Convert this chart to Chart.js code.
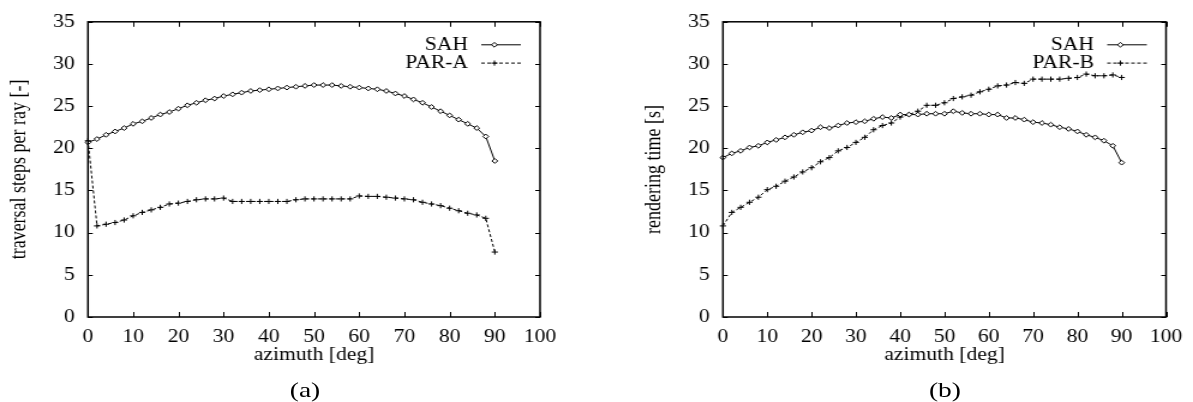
<!DOCTYPE html>
<html>
<head>
<meta charset="utf-8">
<script src="https://cdn.jsdelivr.net/npm/chart.js@4.4.1/dist/chart.umd.min.js"></script>
<style>
  body { margin: 0; background: #fff; }
  #wrap { position: relative; width: 1193px; height: 402px; overflow: hidden; }
  /* the original figure is a bit wider than tall, so stretch each canvas horizontally */
  canvas { position: absolute; top: 0; transform: scaleX(1.2); transform-origin: 0 0; }
  .cap { position: absolute; top: 378px; width: 100px; height: 24px; text-align: center;
         font-family: 'Liberation Serif', serif; font-size: 22px; line-height: 24px; color: #000;
         transform: scaleX(1.25); transform-origin: 50% 50%; }
</style>
</head>
<body>
<div id="wrap">
  <canvas id="chartA" width="497" height="402" style="left:0px"></canvas>
  <canvas id="chartB" width="465" height="402" style="left:635px"></canvas>
  <div class="cap" style="left:255px">(a)</div>
  <div class="cap" style="left:895px">(b)</div>
</div>
<script>
// azimuth samples [deg]
const azimuth = [0, 2, 4, 6, 8, 10, 12, 14, 16, 18, 20, 22, 24, 26, 28, 30, 32, 34, 36, 38, 40, 42, 44,
  46, 48, 50, 52, 54, 56, 58, 60, 62, 64, 66, 68, 70, 72, 74, 76, 78, 80, 82, 84, 86, 88, 90];

// (a) traversal steps per ray
const sahSteps = [20.7, 21.1, 21.6, 22.0, 22.4, 22.9, 23.2, 23.6, 24.0, 24.3, 24.7, 25.1, 25.4, 25.7, 25.9, 26.2,
  26.4, 26.6, 26.8, 26.9, 27.0, 27.1, 27.2, 27.3, 27.4, 27.5, 27.5, 27.5, 27.4, 27.3, 27.2, 27.1, 27.0, 26.8,
  26.5, 26.2, 25.8, 25.4, 24.9, 24.4, 23.9, 23.4, 22.9, 22.4, 21.4, 18.5];
const parASteps = [20.9, 10.8, 11.0, 11.2, 11.5, 12.0, 12.4, 12.7, 13.0, 13.4, 13.5, 13.7, 13.9, 14.0, 14.0, 14.1,
  13.7, 13.7, 13.7, 13.7, 13.7, 13.7, 13.7, 13.9, 14.0, 14.0, 14.0, 14.0, 14.0, 14.0, 14.35, 14.3, 14.3, 14.2,
  14.1, 14.0, 13.9, 13.6, 13.4, 13.2, 12.9, 12.6, 12.3, 12.1, 11.7, 7.7];

// (b) rendering time
const sahTime = [18.9, 19.4, 19.7, 20.1, 20.3, 20.7, 21.0, 21.3, 21.6, 21.9, 22.1, 22.5, 22.4, 22.7, 23.0, 23.1,
  23.2, 23.5, 23.7, 23.6, 24.0, 24.0, 24.0, 24.1, 24.1, 24.1, 24.4, 24.2, 24.1, 24.1, 24.0, 24.0, 23.6, 23.6,
  23.4, 23.1, 23.0, 22.8, 22.5, 22.3, 22.0, 21.6, 21.3, 20.9, 20.3, 18.3];
const parBTime = [10.8, 12.4, 13.0, 13.6, 14.2, 15.1, 15.5, 16.1, 16.6, 17.2, 17.7, 18.4, 18.9, 19.7, 20.1, 20.7,
  21.3, 22.2, 22.7, 23.0, 23.7, 24.0, 24.4, 25.1, 25.1, 25.4, 25.9, 26.1, 26.3, 26.7, 27.0, 27.4, 27.5, 27.8,
  27.7, 28.2, 28.2, 28.2, 28.2, 28.3, 28.4, 28.8, 28.6, 28.6, 28.7, 28.4];

const xTicks = [0, 10, 20, 30, 40, 50, 60, 70, 80, 90, 100];
const yTicks = [0, 5, 10, 15, 20, 25, 30, 35];

Chart.defaults.font.family = "'Liberation Serif', 'DejaVu Serif', serif";
Chart.defaults.font.size = 18;
Chart.defaults.color = '#000';

const toPoints = vals => vals.map((v, i) => ({ x: azimuth[i], y: v }));

function drawMarker(ctx, style, x, y) {
  ctx.save();
  ctx.lineWidth = 1;
  ctx.strokeStyle = '#000';
  ctx.setLineDash([]);
  ctx.beginPath();
  if (style === 'rectRot') {
    const r = 2.4;
    ctx.moveTo(x - r, y); ctx.lineTo(x, y - r); ctx.lineTo(x + r, y); ctx.lineTo(x, y + r);
    ctx.closePath();
    ctx.fillStyle = '#fff';
    ctx.fill();
  } else {
    const r = 2.6;
    ctx.moveTo(x - r, y); ctx.lineTo(x + r, y);
    ctx.moveTo(x, y - r); ctx.lineTo(x, y + r);
  }
  ctx.stroke();
  ctx.restore();
}

// gnuplot-like frame with inward ticks + key in the top right corner
const framePlugin = {
  id: 'frame',
  afterDraw(chart) {
    const { ctx, chartArea: a, scales } = chart;
    ctx.save();
    ctx.strokeStyle = '#000';
    ctx.lineWidth = 1;
    ctx.beginPath();
    scales.x.ticks.forEach(t => {
      const px = Math.round(scales.x.getPixelForValue(t.value)) + 0.5;
      ctx.moveTo(px, a.bottom); ctx.lineTo(px, a.bottom - 5);
      ctx.moveTo(px, a.top); ctx.lineTo(px, a.top + 5);
    });
    scales.y.ticks.forEach(t => {
      const py = Math.round(scales.y.getPixelForValue(t.value)) + 0.5;
      ctx.moveTo(a.left, py); ctx.lineTo(a.left + 4, py);
      ctx.moveTo(a.right, py); ctx.lineTo(a.right - 4, py);
    });
    ctx.stroke();
    ctx.lineWidth = 1.5;
    ctx.strokeRect(a.left, a.top, a.right - a.left, a.bottom - a.top);

    // key
    ctx.font = "18px 'Liberation Serif', serif";
    ctx.textAlign = 'right';
    ctx.textBaseline = 'middle';
    ctx.fillStyle = '#000';
    chart.data.datasets.forEach((ds, i) => {
      const y = a.top + 23 + i * 18.3;
      ctx.fillText(ds.label, a.right - 60, y);
      ctx.beginPath();
      ctx.lineWidth = 1;
      ctx.setLineDash(ds.borderDash || []);
      ctx.moveTo(a.right - 49, y);
      ctx.lineTo(a.right - 16, y);
      ctx.stroke();
      ctx.setLineDash([]);
      drawMarker(ctx, ds.pointStyle, a.right - 38, y);
    });
    ctx.restore();
  }
};

function makeChart(id, sah, par, parLabel, yTitle, padRight) {
  return new Chart(document.getElementById(id), {
    type: 'line',
    data: {
      datasets: [{
        label: 'SAH',
        data: toPoints(sah),
        borderColor: '#000',
        borderWidth: 1,
        pointStyle: 'rectRot',
        pointRadius: 2.4,
        pointBackgroundColor: '#fff',
        pointBorderColor: '#000',
        pointBorderWidth: 1,
        tension: 0,
        clip: 6
      }, {
        label: parLabel,
        data: toPoints(par),
        borderColor: '#000',
        borderWidth: 1,
        borderDash: [3, 2],
        pointStyle: 'cross',
        pointRadius: 2.6,
        pointBorderColor: '#000',
        pointBorderWidth: 1,
        tension: 0,
        clip: 6
      }]
    },
    options: {
      responsive: false,
      animation: false,
      layout: { padding: { top: 14, right: padRight, bottom: 33, left: 0 } },
      plugins: { legend: { display: false }, tooltip: { enabled: false } },
      scales: {
        x: {
          type: 'linear',
          min: 0,
          max: 100,
          afterBuildTicks: s => { s.ticks = xTicks.map(v => ({ value: v })); },
          ticks: { padding: 9, maxRotation: 0, autoSkip: false },
          grid: { display: false, drawTicks: false },
          border: { display: false },
          title: { display: true, text: 'azimuth [deg]', padding: { top: 0, bottom: 2.5 } },
          afterFit: s => { s.height = 52; }
        },
        y: {
          min: 0,
          max: 35,
          afterBuildTicks: s => { s.ticks = yTicks.map(v => ({ value: v })); },
          ticks: { padding: 11 },
          grid: { display: false, drawTicks: false },
          border: { display: false },
          title: { display: true, text: yTitle, padding: { top: 5, bottom: 0 } },
          afterFit: s => { s.width = 73.3; }
        }
      }
    },
    plugins: [framePlugin]
  });
}

makeChart('chartA', sahSteps, parASteps, 'PAR-A', 'traversal steps per ray [-]', 47);
makeChart('chartB', sahTime, parBTime, 'PAR-B', 'rendering time [s]', 16.4);
</script>
</body>
</html>
